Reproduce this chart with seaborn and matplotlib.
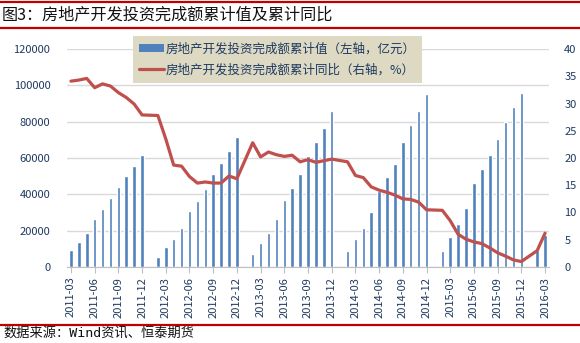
import numpy as np
import pandas as pd
import matplotlib
matplotlib.use("Agg")
import matplotlib.pyplot as plt
from matplotlib.lines import Line2D
from matplotlib.patches import Patch
import seaborn as sns

# ---------------- data ----------------
months = [str(p) for p in pd.period_range("2011-03", "2016-03", freq="M")]

invest_2011 = [9325, 13559, 18737, 26250, 31989, 37781, 44165, 49858, 55697, 61740]
invest_2012 = [None, 5538, 10927, 15373, 21536, 30610, 36323, 43001, 51046, 57055, 64086, 71804]
invest_2013 = [None, 6910, 13078, 18551, 26228, 36828, 43647, 50984, 61120, 68693, 76720, 86013]
invest_2014 = [None, 8706, 15339, 21440, 30283, 42019, 49294, 56924, 68751, 78076, 86014, 95036]
invest_2015 = [None, 8786, 16761, 23666, 32354, 46477, 54166, 61843, 70240, 80039, 87902, 95979]
invest_2016 = [None, 9454, 17677]

yoy_2011 = [34.1, 34.3, 34.6, 32.9, 33.6, 33.2, 32.0, 31.1, 29.9, 27.9]
yoy_2012 = [None, 27.8, 23.5, 18.7, 18.5, 16.6, 15.4, 15.6, 15.4, 15.4, 16.7, 16.2]
yoy_2013 = [None, 22.8, 20.2, 21.1, 20.6, 20.3, 20.5, 19.3, 19.7, 19.2, 19.5, 19.8]
yoy_2014 = [None, 19.3, 16.8, 16.4, 14.7, 14.1, 13.7, 13.2, 12.5, 12.4, 11.9, 10.5]
yoy_2015 = [None, 10.4, 8.5, 6.0, 5.1, 4.6, 4.3, 3.5, 2.6, 2.0, 1.3, 1.0]
yoy_2016 = [None, 3.0, 6.2]

tick_labels = months[::3]

bar_label = "房地产开发投资完成额累计值（左轴，亿元）"
line_label = "房地产开发投资完成额累计同比（右轴，%）"
title = "图3：房地产开发投资完成额累计值及累计同比"
source = "数据来源：Wind资讯、恒泰期货"

invest = invest_2011 + invest_2012 + invest_2013 + invest_2014 + invest_2015 + invest_2016
yoy = yoy_2011 + yoy_2012 + yoy_2013 + yoy_2014 + yoy_2015 + yoy_2016

df = pd.DataFrame({"month": months, "invest": invest, "yoy": yoy})
df["pos"] = np.arange(len(df))
df["invest"] = df["invest"].astype(float)
df["yoy"] = df["yoy"].astype(float)

# ---------------- style ----------------
sns.set_theme(style="white")
plt.rcParams["font.family"] = ["Noto Sans CJK SC", "DejaVu Sans"]
plt.rcParams["axes.unicode_minus"] = False

BLUE = "#4F81BD"
RED = "#C0504D"
NAVY = "#1F3A60"
GRID = "#D9D9D9"

fig = plt.figure(figsize=(5.8, 3.43), dpi=100)
ax = fig.add_axes([67 / 580, 1 - 267 / 343, (549 - 67) / 580, (267 - 49) / 343])

bars = df.dropna(subset=["invest"])
sns.barplot(data=bars, x="month", y="invest", order=months, color=BLUE,
            width=0.45, saturation=1, ax=ax, zorder=2)

ax.set_ylim(0, 120000)
ax.set_yticks(np.arange(0, 120001, 20000))
ax.set_xlim(-0.5, len(months) - 0.5)
ax.set_xticks(np.arange(0, len(months), 3))
ax.set_xticklabels(tick_labels, rotation=90, fontsize=8, color=NAVY)
ax.tick_params(axis="y", length=0, pad=12, labelsize=8, labelcolor=NAVY)
ax.tick_params(axis="x", length=4, width=0.8, color="#BFBFBF", pad=3, bottom=True)
ax.set_xlabel("")
ax.set_ylabel("")
ax.yaxis.grid(True, color=GRID, lw=1)
ax.set_axisbelow(True)
for s in ["left", "right", "top"]:
    ax.spines[s].set_visible(False)
ax.spines["bottom"].set_color("#BFBFBF")
ax.spines["bottom"].set_linewidth(0.8)

ax2 = ax.twinx()
line = df.dropna(subset=["yoy"])
sns.lineplot(data=line, x="pos", y="yoy", color=RED, lw=2.3, ax=ax2,
             solid_joinstyle="round")
ax2.set_ylim(0, 40)
ax2.set_yticks(np.arange(0, 41, 5))
ax2.tick_params(axis="y", length=0, pad=11, labelsize=8, labelcolor=NAVY)
ax2.set_xlim(-0.5, len(months) - 0.5)
ax2.set_ylabel("")
ax2.set_xlabel("")
for s in ["left", "right", "top", "bottom"]:
    ax2.spines[s].set_visible(False)

handles = [Patch(facecolor=BLUE, edgecolor="none"),
           Line2D([0], [0], color=RED, lw=2.3)]
leg = fig.legend(handles, [bar_label, line_label], loc="upper left",
                 bbox_to_anchor=(133 / 580, 1 - 36 / 343), frameon=True,
                 fancybox=False, fontsize=9, handlelength=2.0, handleheight=0.6,
                 handletextpad=0.1, labelspacing=0.65, borderpad=0.5,
                 borderaxespad=0)
leg.get_frame().set_facecolor("#DDD9C3")
leg.get_frame().set_edgecolor("none")
leg.get_frame().set_alpha(1)
for t in leg.get_texts():
    t.set_color(NAVY)

# header / footer
for y in [1 - 1.5 / 343, 1 - 27.5 / 343, 1 - 324.5 / 343]:
    fig.add_artist(Line2D([0, 1], [y, y], transform=fig.transFigure,
                          color="#C00000", lw=1.6))
fig.text(2 / 580, 1 - 14.5 / 343, title, fontsize=11.6, va="center", ha="left",
         color="#111111")
fig.text(3 / 580, 1 - 333 / 343, source, fontsize=9.5, va="center", ha="left",
         color="#111111", family=["DejaVu Sans Mono", "Noto Sans CJK SC"])

fig.savefig("out.png", dpi=100)
